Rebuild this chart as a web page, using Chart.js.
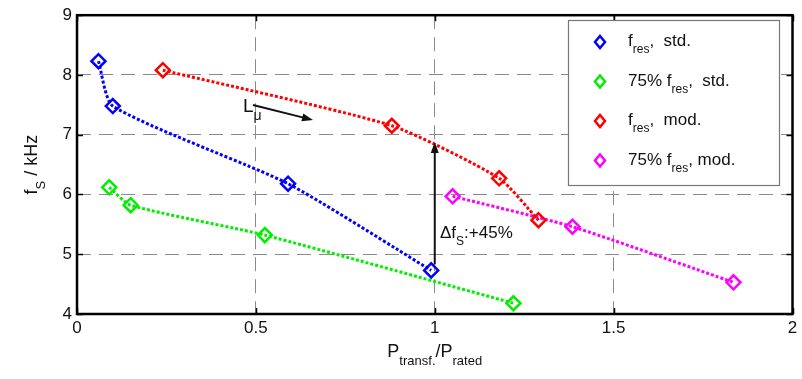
<!DOCTYPE html>
<html>
<head>
<meta charset="utf-8">
<script src="https://cdn.jsdelivr.net/npm/chart.js@4"></script>
<style>
  body { margin: 0; background: #fff; }
  #wrap { width: 802px; height: 379px; }
</style>
</head>
<body>
<div id="wrap"><canvas id="js--chart"></canvas></div>
<script>
// values
const stdX = [0.06, 0.10, 0.59, 0.99];
const stdY = [8.23, 7.48, 6.18, 4.73];
const std75X = [0.09, 0.15, 0.525, 1.22];
const std75Y = [6.12, 5.82, 5.32, 4.18];
const modX = [0.24, 0.88, 1.18, 1.29];
const modY = [8.08, 7.15, 6.27, 5.57];
const mod75X = [1.05, 1.385, 1.835];
const mod75Y = [5.97, 5.46, 4.53];
const xTicks = [0, 0.5, 1, 1.5, 2];
const yTicks = [4, 5, 6, 7, 8, 9];

const FONT = "'Liberation Sans', Arial, sans-serif";

function points(xs, ys){
    return xs.map(function(x, i){ return {x: x, y: ys[i]}; });
}

function series(label, xs, ys, color){
    return {
        label: label,
        data: points(xs, ys),
        borderColor: color,
        backgroundColor: 'transparent',
        borderWidth: 3,
        borderDash: [3, 2],
        tension: 0.2,
        pointStyle: 'rectRot',
        pointRadius: 7,
        pointBorderWidth: 2.5,
        pointBorderColor: color,
        pointBackgroundColor: 'rgba(255,255,255,0)'
    };
}

// text with subscripts: parts = [[text, isSub], ...]
function drawParts(ctx, parts, x, y, size){
    let cx = x;
    parts.forEach(function(p){
        if (p[1]) {
            ctx.font = Math.round(size * 0.72) + "px " + FONT;
            ctx.fillText(p[0], cx, y + size * 0.42);
        } else {
            ctx.font = size + "px " + FONT;
            ctx.fillText(p[0], cx, y);
        }
        cx += ctx.measureText(p[0]).width;
    });
    return cx - x;
}

function partsWidth(ctx, parts, size){
    let w = 0;
    parts.forEach(function(p){
        ctx.font = (p[1] ? Math.round(size * 0.72) : size) + "px " + FONT;
        w += ctx.measureText(p[0]).width;
    });
    return w;
}

function arrow(ctx, x1, y1, x2, y2){
    const a = Math.atan2(y2 - y1, x2 - x1);
    const L = 11, W = 4;
    ctx.beginPath();
    ctx.moveTo(x1, y1);
    ctx.lineTo(x2 - Math.cos(a) * L * 0.8, y2 - Math.sin(a) * L * 0.8);
    ctx.stroke();
    ctx.beginPath();
    ctx.moveTo(x2, y2);
    ctx.lineTo(x2 - Math.cos(a) * L - Math.sin(a) * W, y2 - Math.sin(a) * L + Math.cos(a) * W);
    ctx.lineTo(x2 - Math.cos(a) * L + Math.sin(a) * W, y2 - Math.sin(a) * L - Math.cos(a) * W);
    ctx.closePath();
    ctx.fill();
}

const extras = {
    id: 'extras',
    afterDraw: function(chart){
        const ctx = chart.ctx;
        const a = chart.chartArea;
        const xs = chart.scales.x, ys = chart.scales.y;
        ctx.save();

        // inward tick marks on all four sides
        ctx.strokeStyle = '#000';
        ctx.lineWidth = 1.5;
        xTicks.forEach(function(t){
            const px = Math.round(xs.getPixelForValue(t)) + 0.5;
            ctx.beginPath();
            ctx.moveTo(px, a.bottom); ctx.lineTo(px, a.bottom - 6);
            ctx.moveTo(px, a.top); ctx.lineTo(px, a.top + 6);
            ctx.stroke();
        });
        yTicks.forEach(function(t){
            const py = Math.round(ys.getPixelForValue(t)) + 0.5;
            ctx.beginPath();
            ctx.moveTo(a.left, py); ctx.lineTo(a.left + 6, py);
            ctx.moveTo(a.right, py); ctx.lineTo(a.right - 6, py);
            ctx.stroke();
        });

        // frame
        ctx.lineWidth = 2.5;
        ctx.strokeRect(a.left, a.top, a.right - a.left, a.bottom - a.top);

        // annotations
        ctx.fillStyle = '#111';
        ctx.strokeStyle = '#111';
        ctx.lineWidth = 2;
        ctx.textBaseline = 'alphabetic';
        ctx.textAlign = 'left';
        drawParts(ctx, [['L', false], ['\u03bc', true]], 243, 112, 19);
        arrow(ctx, 253, 105, 313, 120);

        const xv = xs.getPixelForValue(1);
        arrow(ctx, xv, ys.getPixelForValue(4.73) - 6, xv, ys.getPixelForValue(6.88));
        drawParts(ctx, [['\u0394f', false], ['S', true], [':+45%', false]], 440, 238, 17);

        // legend
        const lx = 568, ly = 20, lw = 211, lh = 165;
        ctx.fillStyle = '#fff';
        ctx.fillRect(lx, ly, lw, lh);
        ctx.strokeStyle = '#777';
        ctx.lineWidth = 1.2;
        ctx.strokeRect(lx + 0.5, ly + 0.5, lw, lh);
        const entries = [
            [[['f', false], ['res', true], [',  std.', false]], '#0000ff'],
            [[['75% f', false], ['res', true], [',  std.', false]], '#00ee00'],
            [[['f', false], ['res', true], [',  mod.', false]], '#ff0000'],
            [[['75% f', false], ['res', true], [', mod.', false]], '#ff00ff']
        ];
        entries.forEach(function(e, i){
            const cy = 42 + i * 39.5;
            ctx.strokeStyle = e[1];
            ctx.lineWidth = 2.5;
            ctx.beginPath();
            ctx.moveTo(600, cy - 6); ctx.lineTo(605, cy); ctx.lineTo(600, cy + 6); ctx.lineTo(595, cy);
            ctx.closePath();
            ctx.stroke();
            ctx.fillStyle = '#111';
            drawParts(ctx, e[0], 628, cy + 4, 17);
        });

        // axis titles
        ctx.fillStyle = '#111';
        const xt = [['P', false], ['transf.', true], ['/P', false], ['rated', true]];
        const xw = partsWidth(ctx, xt, 18);
        drawParts(ctx, xt, (a.left + a.right) / 2 - xw / 2, 357, 18);

        ctx.translate(37, (a.top + a.bottom) / 2);
        ctx.rotate(-Math.PI / 2);
        const yt = [['f', false], ['S', true], [' / kHz', false]];
        const yw = partsWidth(ctx, yt, 18);
        drawParts(ctx, yt, -yw / 2, 0, 18);

        ctx.restore();
    }
};

const config = {
    type: 'line',
    data: {
        datasets: [
            series('f_res, std.', stdX, stdY, '#0000ff'),
            series('75% f_res, std.', std75X, std75Y, '#00ee00'),
            series('f_res, mod.', modX, modY, '#ff0000'),
            series('75% f_res, mod.', mod75X, mod75Y, '#ff00ff')
        ]
    },
    options: {
        responsive: true,
        maintainAspectRatio: false,
        animation: false,
        layout: { padding: { top: 14, right: 7, left: 0, bottom: 0 } },
        plugins: { legend: { display: false }, tooltip: { enabled: false } },
        scales: {
            x: {
                type: 'linear',
                min: 0, max: 2,
                afterBuildTicks: function(scale){ scale.ticks = xTicks.map(function(v){ return {value: v}; }); },
                afterFit: function(scale){ scale.height = 65; },
                ticks: { color: '#111', padding: 4, font: { family: FONT, size: 17 },
                    callback: function(v){ return String(v); } },
                grid: { color: '#8a8a8a', lineWidth: 1, drawTicks: false },
                border: { display: false, dash: [14, 8] }
            },
            y: {
                type: 'linear',
                min: 4, max: 9,
                afterBuildTicks: function(scale){ scale.ticks = yTicks.map(function(v){ return {value: v}; }); },
                afterFit: function(scale){ scale.width = 77; },
                ticks: { color: '#111', padding: 5, font: { family: FONT, size: 17 },
                    callback: function(v){ return String(v); } },
                grid: { color: '#8a8a8a', lineWidth: 1, drawTicks: false },
                border: { display: false, dash: [14, 8] }
            }
        }
    },
    plugins: [extras]
};

const chart = new Chart(document.getElementById("js--chart"), config);
</script>
</body>
</html>
